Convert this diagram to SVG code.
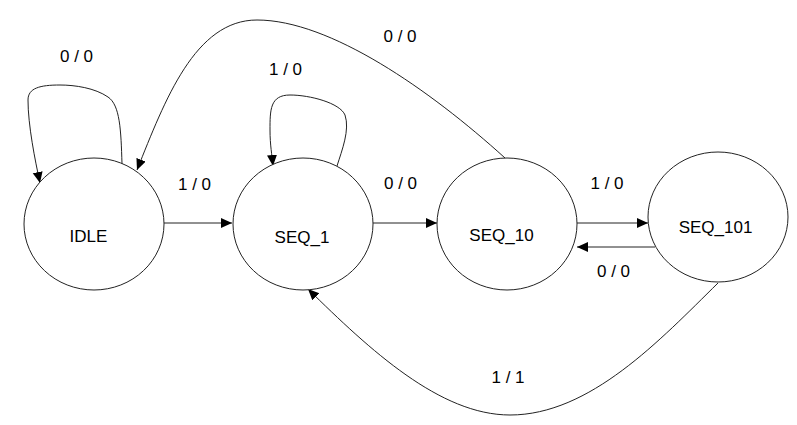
<svg xmlns="http://www.w3.org/2000/svg" width="797" height="425" viewBox="0 0 797 425">
<style>
.st{fill:#fff;stroke:#222;stroke-width:1}
.ed{fill:none;stroke:#222;stroke-width:1;marker-end:url(#ah)}
text{font-family:"Liberation Sans",Arial,sans-serif;font-size:17px;fill:#000;text-anchor:middle}
</style>
<defs>
<marker id="ah" markerUnits="userSpaceOnUse" markerWidth="12" markerHeight="11" refX="11" refY="5" orient="auto">
<path d="M0,0 L11,5 L0,10 z" fill="#000"/>
</marker>
</defs>
<rect width="797" height="425" fill="#fff"/>
<g id="connectors">
<path class="ed" d="M122,164 C121,130 120,105 108,97 C95,88 75,85 60,85 C40,85 28,88 28,100 C28,125 35,160 40,183"/>
<path class="ed" d="M164,223 L232,223"/>
<path class="ed" d="M337,166 C342,150 350,130 345,115 C340,103 310,95 290,95 C270,95 270,110 270,130 C270,145 272,155 273,166"/>
<path class="ed" d="M373,223 L437,223"/>
<path class="ed" d="M505,158 C430,90 330,20 257,20 C195,20 165,100 137,170"/>
<path class="ed" d="M577,223 L648,223"/>
<path class="ed" d="M655,247 L577,247"/>
<path class="ed" d="M718,283 C660,340 590,415 510,415 C440,415 370,350 308,289"/>
<text x="76.5" y="62">0 / 0</text>
<text x="194.5" y="190">1 / 0</text>
<text x="285.5" y="75">1 / 0</text>
<text x="400.5" y="189">0 / 0</text>
<text x="400" y="42">0 / 0</text>
<text x="607" y="189">1 / 0</text>
<text x="613.5" y="277">0 / 0</text>
<text x="508" y="383">1 / 1</text>
</g>
<g id="IDLE"><ellipse class="st" cx="94" cy="224" rx="70" ry="66"/><text x="88.5" y="242">IDLE</text></g>
<g id="SEQ_1"><ellipse class="st" cx="303" cy="224" rx="70" ry="66"/><text x="302" y="243">SEQ_1</text></g>
<g id="SEQ_10"><ellipse class="st" cx="507" cy="224" rx="70" ry="66"/><text x="501.5" y="241">SEQ_10</text></g>
<g id="SEQ_101"><ellipse class="st" cx="718" cy="217" rx="70" ry="65"/><text x="715.5" y="233">SEQ_101</text></g>
</svg>
